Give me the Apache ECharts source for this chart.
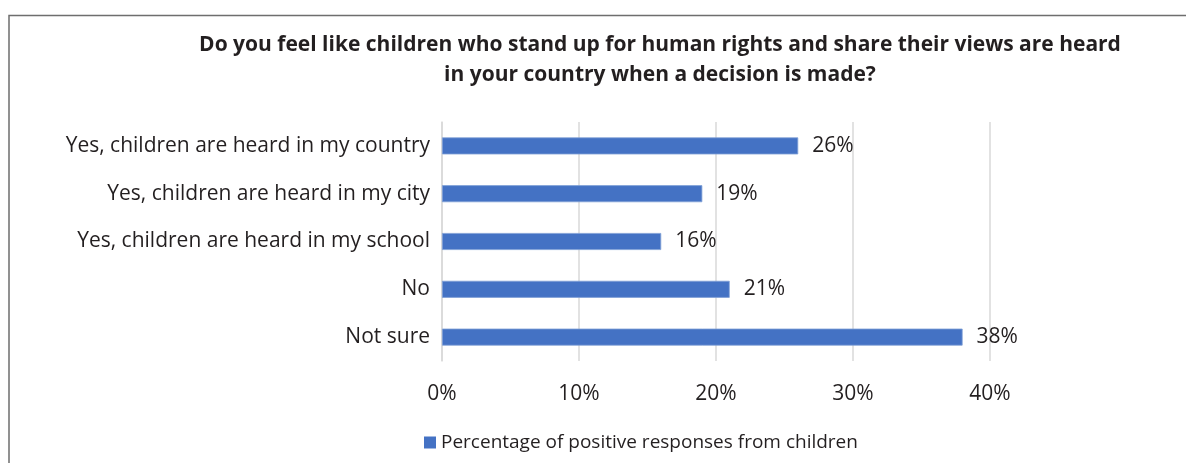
<!DOCTYPE html>
<html>
<head>
<meta charset="utf-8">
<title>Children heard when decisions are made</title>
<script src="https://cdn.jsdelivr.net/npm/echarts@6/dist/echarts.min.js"></script>
<style>
  html, body { margin: 0; padding: 0; background: #ffffff; }
  #chart { width: 1186px; height: 463px; }
</style>
</head>
<body>
<div id="chart"></div>
<script>
// Answer categories, listed top to bottom
const categories = [
  'Yes, children are heard in my country',
  'Yes, children are heard in my city',
  'Yes, children are heard in my school',
  'No',
  'Not sure'
];
// Share of children giving each answer (%)
const values = [26, 19, 16, 21, 38];
const seriesName = 'Percentage of positive responses from children';
const titleText = 'Do you feel like children who stand up for human rights and share their views are heard\nin your country when a decision is made?';

const FONT = '"Open Sans", sans-serif';
const TEXT = '#231F20';
const BLUE = '#4472C4';

const chart = echarts.init(document.getElementById('chart'), null, { renderer: 'canvas' });

chart.setOption({
  backgroundColor: '#ffffff',
  animation: false,
  title: {
    text: titleText,
    left: 655,
    top: 25,
    textAlign: 'center',
    textStyle: {
      fontFamily: FONT,
      fontWeight: 'bold',
      fontSize: 21,
      lineHeight: 30,
      color: TEXT
    }
  },
  legend: {
    data: [seriesName],
    left: 419,
    top: 428,
    itemWidth: 12,
    itemHeight: 12,
    itemGap: 9,
    icon: 'rect',
    itemStyle: { borderWidth: 0 },
    textStyle: { fontFamily: FONT, fontSize: 19, color: TEXT }
  },
  grid: {
    left: 442,
    right: 196,
    top: 122,
    bottom: 102,
    containLabel: false
  },
  xAxis: {
    type: 'value',
    min: 0,
    max: 40,
    interval: 10,
    axisLine: { show: false },
    axisTick: { show: false },
    splitLine: { show: true, lineStyle: { color: '#D9D9D9', width: 1.5 } },
    axisLabel: {
      formatter: '{value}%',
      margin: 23,
      fontFamily: FONT,
      fontSize: 21,
      color: TEXT
    }
  },
  yAxis: {
    type: 'category',
    data: categories,
    inverse: true,
    axisLine: { show: true, lineStyle: { color: '#D9D9D9', width: 1.5 } },
    axisTick: { show: false },
    axisLabel: {
      margin: 12,
      padding: [4, 0, 0, 0],
      fontFamily: FONT,
      fontSize: 21,
      color: TEXT
    }
  },
  series: [{
    name: seriesName,
    type: 'bar',
    data: values,
    barWidth: 17,
    itemStyle: { color: BLUE, borderColor: '#7F9FD6', borderWidth: 0.8 },
    label: {
      show: true,
      position: 'right',
      distance: 14,
      padding: [4, 0, 0, 0],
      formatter: '{c}%',
      fontFamily: FONT,
      fontSize: 21,
      color: TEXT
    }
  }],
  graphic: [{
    type: 'polyline',
    shape: { points: [[9, 463], [9, 15.5], [1186, 15.5]] },
    style: { stroke: '#6E6E6E', lineWidth: 1.5, fill: null },
    silent: true
  }]
});
</script>
</body>
</html>
